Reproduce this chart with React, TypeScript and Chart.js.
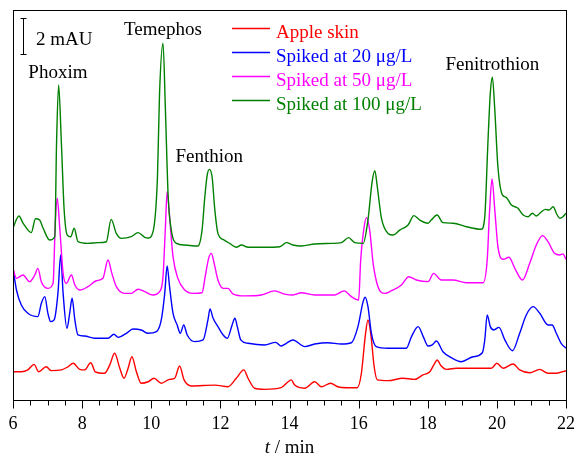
import { useEffect, useRef } from "react";
import { Chart, registerables } from "chart.js";

Chart.register(...registerables);

// ---- data (retention time in min, absorbance in mAU incl. vertical offset) ----
const X_MIN = 6;
const X_MAX = 22;
const Y_MIN = 0;
const Y_MAX = 21.135;
const X_TICK_STEP = 2;
const X_MINOR_STEP = 0.5;

const appleSkin: number[][] = [
  [6.0, 1.58], [6.24, 1.58], [6.43, 1.68], [6.61, 1.98], [6.74, 1.58], [6.96, 1.85], [7.11, 1.64],
  [7.4, 1.68], [7.59, 1.85], [7.74, 2.04], [7.93, 1.71], [8.07, 1.68], [8.25, 2.07], [8.38, 1.58],
  [8.65, 1.5], [8.8, 1.95], [8.94, 2.58], [9.09, 1.77], [9.21, 1.23], [9.33, 1.77], [9.44, 2.39],
  [9.57, 1.58], [9.71, 0.96], [9.91, 1.04], [10.08, 1.23], [10.29, 0.96], [10.53, 1.17], [10.68, 1.23],
  [10.82, 1.89], [10.95, 1.14], [11.16, 0.81], [11.84, 0.86], [12.22, 0.77], [12.46, 1.23], [12.68, 1.68],
  [12.8, 1.23], [12.99, 0.69], [13.28, 0.63], [13.76, 0.72], [13.96, 1.04], [14.05, 1.14], [14.15, 0.86],
  [14.44, 0.69], [14.73, 1.04], [14.92, 0.77], [15.19, 0.96], [15.4, 0.77], [15.69, 0.72], [15.96, 0.72],
  [16.08, 1.5], [16.19, 3.48], [16.27, 4.38], [16.35, 3.66], [16.45, 1.85], [16.54, 1.14], [16.85, 1.1],
  [17.28, 1.23], [17.62, 1.17], [17.86, 1.41], [18.06, 1.58], [18.2, 2.04], [18.27, 2.22], [18.39, 1.89],
  [18.54, 1.71], [18.83, 1.77], [19.12, 1.77], [19.6, 1.77], [19.84, 1.77], [20.0, 2.04], [20.18, 1.77],
  [20.47, 2.0], [20.66, 1.68], [20.95, 1.53], [21.24, 1.71], [21.48, 1.5], [21.72, 1.5], [22.0, 1.64],
];

const spiked20: number[][] = [
  [6.0, 7.17], [6.1, 6.0], [6.24, 5.19], [6.43, 4.74], [6.72, 4.56], [6.82, 5.28], [6.92, 5.64],
  [7.01, 4.74], [7.09, 4.29], [7.19, 4.38], [7.3, 5.82], [7.38, 7.89], [7.45, 5.82], [7.56, 3.93],
  [7.64, 4.74], [7.71, 5.55], [7.79, 4.38], [7.88, 3.57], [8.07, 3.51], [8.36, 3.39], [8.75, 3.39],
  [8.92, 3.61], [9.04, 3.44], [9.28, 3.66], [9.47, 3.89], [9.71, 3.84], [9.91, 3.66], [10.15, 3.75],
  [10.29, 4.38], [10.39, 5.82], [10.46, 7.3], [10.53, 6.18], [10.63, 4.74], [10.75, 4.11], [10.84, 3.66],
  [10.94, 4.11], [11.04, 3.57], [11.26, 3.21], [11.5, 3.3], [11.64, 4.38], [11.7, 4.97], [11.79, 4.47],
  [11.93, 4.02], [12.08, 3.57], [12.2, 3.39], [12.34, 4.11], [12.42, 4.47], [12.49, 4.02], [12.59, 3.3],
  [12.8, 3.12], [13.28, 3.03], [13.6, 3.17], [13.76, 2.97], [13.91, 3.12], [14.1, 3.3], [14.44, 2.94],
  [14.73, 3.08], [15.11, 3.15], [15.5, 3.08], [15.79, 3.15], [15.98, 4.02], [16.13, 5.37], [16.19, 5.61],
  [16.27, 5.1], [16.37, 3.66], [16.51, 2.94], [16.85, 2.85], [17.38, 2.85], [17.53, 3.48], [17.72, 4.02],
  [17.87, 3.48], [18.01, 2.97], [18.13, 3.03], [18.25, 3.24], [18.44, 2.66], [18.68, 2.34], [18.97, 2.12],
  [19.31, 2.39], [19.58, 2.61], [19.65, 3.3], [19.72, 4.65], [19.81, 4.02], [19.91, 3.84], [20.06, 3.98],
  [20.23, 3.3], [20.45, 2.72], [20.66, 3.66], [20.85, 4.65], [21.05, 5.1], [21.24, 4.74], [21.48, 4.11],
  [21.6, 4.11], [21.72, 3.66], [21.86, 3.12], [22.0, 2.85],
];

const spiked50: number[][] = [
  [6.0, 7.17], [6.1, 6.63], [6.29, 6.81], [6.48, 6.45], [6.63, 6.81], [6.72, 7.17], [6.82, 6.45],
  [7.01, 6.09], [7.16, 6.36], [7.22, 9.42], [7.28, 10.96], [7.35, 9.42], [7.45, 6.9], [7.54, 6.36],
  [7.69, 6.81], [7.79, 6.27], [7.93, 6.0], [8.17, 6.18], [8.41, 6.5], [8.6, 6.63], [8.75, 7.62],
  [8.86, 6.9], [8.99, 6.18], [9.23, 5.82], [9.42, 5.82], [9.62, 6.04], [9.81, 5.91], [10.05, 5.73],
  [10.24, 5.91], [10.34, 6.72], [10.41, 9.42], [10.46, 11.31], [10.53, 9.96], [10.63, 7.8], [10.77, 6.63],
  [10.97, 6.0], [11.21, 5.82], [11.47, 5.85], [11.56, 6.72], [11.66, 7.71], [11.74, 7.98], [11.82, 7.44],
  [11.93, 6.54], [12.08, 6.09], [12.22, 6.09], [12.37, 5.78], [12.7, 5.68], [13.18, 5.73], [13.57, 5.95],
  [13.86, 5.78], [14.1, 5.73], [14.34, 5.85], [14.73, 5.73], [15.31, 5.73], [15.58, 5.95], [15.79, 5.64],
  [16.0, 5.46], [16.06, 7.62], [16.16, 9.42], [16.23, 9.91], [16.32, 9.24], [16.42, 7.44], [16.56, 6.18],
  [16.76, 5.82], [16.95, 5.96], [17.24, 6.27], [17.45, 6.72], [17.67, 6.54], [18.01, 6.45], [18.17, 6.9],
  [18.39, 6.54], [18.73, 6.54], [19.12, 6.39], [19.6, 6.39], [19.72, 7.62], [19.79, 10.32], [19.86, 12.0],
  [19.94, 10.32], [20.03, 8.34], [20.18, 7.66], [20.35, 7.77], [20.52, 7.17], [20.74, 6.54], [20.95, 7.44],
  [21.14, 8.43], [21.32, 8.94], [21.48, 8.61], [21.67, 7.98], [21.82, 7.89], [21.91, 7.95], [22.0, 7.66],
];

const spiked100: number[][] = [
  [6.0, 9.35], [6.17, 10.0], [6.29, 9.62], [6.53, 9.1], [6.65, 9.85], [6.77, 9.78], [6.87, 9.35],
  [7.06, 8.7], [7.21, 8.88], [7.26, 13.93], [7.32, 17.08], [7.4, 13.93], [7.48, 10.32], [7.57, 8.97],
  [7.67, 8.88], [7.77, 9.34], [7.88, 8.61], [8.17, 8.52], [8.46, 8.56], [8.7, 8.61], [8.84, 9.82],
  [8.99, 9.06], [9.13, 8.79], [9.42, 8.88], [9.62, 9.1], [9.81, 8.85], [9.91, 8.81], [10.05, 9.14],
  [10.18, 12.12], [10.24, 16.63], [10.34, 19.34], [10.41, 15.73], [10.49, 11.04], [10.58, 9.24],
  [10.73, 8.52], [10.97, 8.43], [11.35, 8.38], [11.47, 9.24], [11.55, 11.04], [11.62, 12.22],
  [11.68, 12.52], [11.76, 12.12], [11.84, 10.32], [11.93, 9.06], [12.11, 8.7], [12.27, 8.52],
  [12.46, 8.31], [12.61, 8.43], [12.8, 8.31], [13.28, 8.31], [13.72, 8.34], [13.91, 8.56], [14.1, 8.43],
  [14.34, 8.38], [14.73, 8.49], [15.21, 8.52], [15.5, 8.56], [15.71, 8.83], [15.89, 8.56], [16.13, 8.52],
  [16.27, 9.78], [16.39, 11.85], [16.47, 12.45], [16.54, 11.58], [16.66, 9.88], [16.85, 9.06], [17.0, 8.97],
  [17.19, 9.24], [17.43, 9.51], [17.6, 10.02], [17.77, 9.78], [18.01, 9.61], [18.1, 9.78], [18.27, 10.05],
  [18.44, 9.64], [18.73, 9.61], [19.12, 9.42], [19.55, 9.28], [19.65, 9.96], [19.74, 13.93], [19.81, 16.63],
  [19.87, 17.5], [19.94, 15.73], [20.03, 12.66], [20.16, 11.14], [20.27, 11.01], [20.42, 10.59],
  [20.61, 10.42], [20.76, 10.05], [20.9, 9.96], [21.03, 10.15], [21.14, 10.0], [21.29, 10.23],
  [21.41, 10.36], [21.51, 10.32], [21.63, 10.5], [21.72, 10.15], [21.82, 9.88], [21.91, 9.96], [22.0, 10.15],
];

const SERIES_LABELS = ["Apple skin", "Spiked at 20 μg/L", "Spiked at 50 μg/L", "Spiked at 100 μg/L"];
const SERIES_COLORS = ["#ff0000", "#0000ff", "#ff00ff", "#008000"];
const SERIES_DATA = [appleSkin, spiked20, spiked50, spiked100];

const PEAK_NAMES = ["Phoxim", "Temephos", "Fenthion", "Fenitrothion"];
const PEAK_TIMES = [7.3, 10.34, 11.68, 19.87];

const SCALE_BAR_MAU = 2;
const SCALE_BAR_LABEL = "2 mAU";
const X_TITLE_ITALIC = "t";
const X_TITLE_REST = " / min";

const FONT = "'Liberation Serif', 'Times New Roman', Times, serif";

const decorPlugin = {
  id: "decor",
  afterDraw(chart: any) {
    const ctx: CanvasRenderingContext2D = chart.ctx;
    const { left, right, top, bottom } = chart.chartArea;
    const xs = chart.scales.x;
    const ys = chart.scales.y;
    ctx.save();

    // frame
    ctx.strokeStyle = "#000";
    ctx.lineWidth = 1;
    ctx.strokeRect(left + 0.5, top + 0.5, right - left, bottom - top - 1);

    // x ticks (outward)
    const axisY = bottom - 0.5;
    for (let t = X_MIN; t <= X_MAX + 1e-9; t += X_MINOR_STEP) {
      const px = Math.round(xs.getPixelForValue(t)) + 0.5;
      const major = Math.abs(t / X_TICK_STEP - Math.round(t / X_TICK_STEP)) < 1e-6;
      ctx.beginPath();
      ctx.moveTo(px, axisY);
      ctx.lineTo(px, axisY + (major ? 8 : 5));
      ctx.stroke();
    }

    // x title
    ctx.fillStyle = "#000";
    ctx.textBaseline = "alphabetic";
    ctx.textAlign = "left";
    ctx.font = `italic 19px ${FONT}`;
    const w1 = ctx.measureText(X_TITLE_ITALIC).width;
    ctx.font = `19px ${FONT}`;
    const w2 = ctx.measureText(X_TITLE_REST).width;
    const cx = (left + right) / 2;
    const tx = cx - (w1 + w2) / 2;
    ctx.font = `italic 19px ${FONT}`;
    ctx.fillText(X_TITLE_ITALIC, tx, 453);
    ctx.font = `19px ${FONT}`;
    ctx.fillText(X_TITLE_REST, tx + w1, 453);

    // scale bar
    const sbx = left + 10.5;
    const sTop = 18;
    const sBot = sTop + (ys.getPixelForValue(0) - ys.getPixelForValue(SCALE_BAR_MAU));
    ctx.beginPath();
    ctx.moveTo(sbx, sTop);
    ctx.lineTo(sbx, sBot);
    ctx.moveTo(sbx - 3, sTop + 0.5);
    ctx.lineTo(sbx + 3, sTop + 0.5);
    ctx.moveTo(sbx - 3, sBot - 0.5);
    ctx.lineTo(sbx + 3, sBot - 0.5);
    ctx.stroke();
    ctx.fillText(SCALE_BAR_LABEL, left + 23, 44.5);

    // peak annotations
    const baselines = [77.5, 35, 161.5, 70];
    ctx.textAlign = "center";
    PEAK_NAMES.forEach((name, i) => {
      ctx.fillText(name, xs.getPixelForValue(PEAK_TIMES[i]), baselines[i]);
    });

    // legend
    ctx.textAlign = "left";
    SERIES_LABELS.forEach((label, i) => {
      const ly = 28.5 + i * 24;
      ctx.strokeStyle = SERIES_COLORS[i];
      ctx.lineWidth = 1.5;
      ctx.beginPath();
      ctx.moveTo(232, ly);
      ctx.lineTo(270, ly);
      ctx.stroke();
      ctx.fillStyle = SERIES_COLORS[i];
      ctx.fillText(label, 276, ly + 9.5);
    });

    ctx.restore();
  },
};

export default function App() {
  const ref = useRef<HTMLCanvasElement>(null);
  useEffect(() => {
    const canvas = ref.current;
    if (!canvas) return;
    const chart = new Chart(canvas, {
      type: "line",
      data: {
        datasets: SERIES_DATA.map((series, i) => ({
          label: SERIES_LABELS[i],
          data: series.map(([x, y]) => ({ x, y })),
          borderColor: SERIES_COLORS[i],
          backgroundColor: SERIES_COLORS[i],
          borderWidth: 1.4,
          pointRadius: 0,
          cubicInterpolationMode: "monotone" as const,
          fill: false,
          order: SERIES_DATA.length - i,
        })),
      },
      options: {
        animation: false,
        responsive: false,
        devicePixelRatio: 1,
        layout: { padding: { left: 13, top: 10, right: 10, bottom: 0 } },
        plugins: { legend: { display: false }, tooltip: { enabled: false } },
        scales: {
          x: {
            type: "linear",
            min: X_MIN,
            max: X_MAX,
            grid: { display: false, drawTicks: false },
            border: { display: false },
            ticks: {
              stepSize: X_TICK_STEP,
              color: "#000",
              padding: 12,
              maxRotation: 0,
              autoSkip: false,
              font: { family: FONT, size: 18 },
            },
            afterFit: (s: any) => {
              s.height = 60;
              s.paddingLeft = 0;
              s.paddingRight = 0;
            },
          },
          y: {
            type: "linear",
            display: false,
            min: Y_MIN,
            max: Y_MAX,
          },
        },
      },
      plugins: [decorPlugin],
    });
    return () => chart.destroy();
  }, []);
  return (
    <div style={{ position: "absolute", left: 0, top: 0, width: 576, height: 461, background: "#fff" }}>
      <canvas ref={ref} width={576} height={461} style={{ display: "block", width: 576, height: 461 }} />
    </div>
  );
}
